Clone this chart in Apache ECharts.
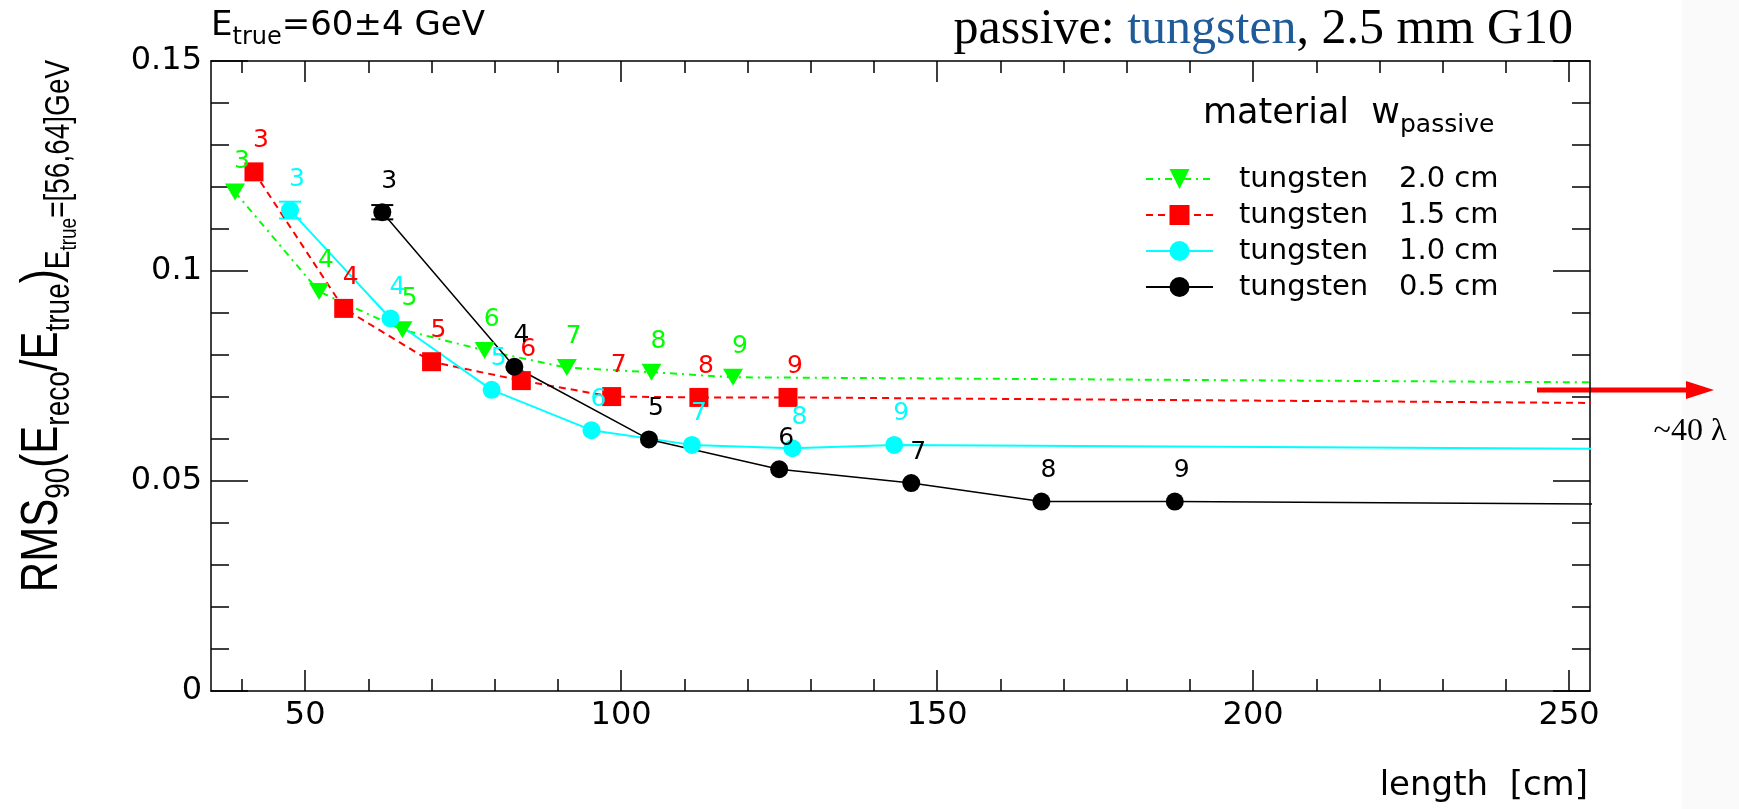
<!DOCTYPE html>
<html>
<head>
<meta charset="utf-8">
<title>RMS90 vs length, tungsten</title>
<script src="https://cdn.jsdelivr.net/npm/echarts@6/dist/echarts.min.js"></script>
<style>
  html, body { margin: 0; padding: 0; background: #fff; }
  #chart { width: 1739px; height: 809px; }
</style>
</head>
<body>
<div id="chart"></div>
<script>
// number of interaction lengths written next to each point
var depthLabels = [3, 4, 5, 6, 7, 8, 9];

// tungsten 2.0 cm
var lengthW20 = [38.9, 52.2, 65.4, 78.4, 91.4, 104.8, 117.7];
var rmsW20 = [0.1188, 0.0951, 0.0860, 0.0811, 0.0770, 0.0759, 0.0747];
// tungsten 1.5 cm
var lengthW15 = [41.9, 56.1, 70.0, 84.2, 98.5, 112.3, 126.4];
var rmsW15 = [0.1236, 0.0911, 0.0784, 0.0739, 0.0701, 0.0699, 0.0699];
// tungsten 1.0 cm
var lengthW10 = [47.6, 63.5, 79.5, 95.3, 111.2, 127.1, 143.2];
var rmsW10 = [0.1145, 0.0887, 0.0717, 0.0621, 0.0586, 0.0578, 0.0586];
var errW10 = [0.0020, 0, 0, 0, 0, 0, 0];
// tungsten 0.5 cm
var lengthW05 = [62.2, 83.1, 104.4, 125.0, 145.9, 166.5, 187.6];
var rmsW05 = [0.1140, 0.0772, 0.0599, 0.0528, 0.0495, 0.0451, 0.0451];
var errW05 = [0.0017, 0, 0, 0, 0, 0, 0];

// the ~40 lambda points are far past the right edge, only their lines show
var farLength = [523, 562, 636, 834];
var farRms = [0.0711, 0.0654, 0.0546, 0.0392];

var materials = ['tungsten', 'tungsten', 'tungsten', 'tungsten'];
var thickness = ['2.0 cm', '1.5 cm', '1.0 cm', '0.5 cm'];

var xMajorTicks = [50, 100, 150, 200, 250];
var xMinorTicks = [40, 60, 70, 80, 90, 110, 120, 130, 140, 160, 170, 180, 190, 210, 220, 230, 240];

var font = 'DejaVu Sans';
var narrow = 'Liberation Sans';
var serif = 'Liberation Serif';

function xAxisDef(pos, ticks, len, showLine, showLabel) {
    return {
        type: 'value', position: pos, min: 35.1, max: 253.3,
        axisLine: { show: showLine, onZero: false, lineStyle: { color: '#000', width: 1.5 } },
        axisTick: { show: true, inside: true, length: len, customValues: ticks,
            lineStyle: { color: '#000', width: 1.5 } },
        axisLabel: { show: showLabel, customValues: ticks, margin: 9, color: '#000',
            fontFamily: font, fontSize: 32 },
        splitLine: { show: false }
    };
}

function yAxisDef(pos, showLabel) {
    return {
        type: 'value', position: pos, min: 0, max: 0.15, interval: 0.05,
        axisLine: { show: true, onZero: false, lineStyle: { color: '#000', width: 1.5 } },
        axisTick: { show: true, inside: true, length: 37, lineStyle: { color: '#000', width: 1.5 } },
        minorTick: { show: true, splitNumber: 5, length: 18, lineStyle: { color: '#000', width: 1.5 } },
        axisLabel: { show: showLabel, margin: 9, color: '#000', fontFamily: font, fontSize: 32 },
        splitLine: { show: false }
    };
}

function pointSeries(i, xs, ys, color, symbol, size, rotate, lineType, lineWidth) {
    var data = xs.map(function (x, k) { return [x, ys[k]]; });
    data.push({ value: [farLength[i], farRms[i]], symbol: 'none', label: { show: false } });
    return {
        name: materials[i] + '  ' + thickness[i],
        type: 'line',
        data: data,
        symbol: symbol,
        symbolSize: size,
        symbolRotate: rotate,
        showAllSymbol: true,
        clip: true,
        itemStyle: { color: color },
        lineStyle: { color: color, width: lineWidth, type: lineType },
        label: {
            show: true, position: 'inside', offset: [7, -31],
            color: color, fontFamily: font, fontSize: 25,
            formatter: function (p) { return depthLabels[p.dataIndex]; }
        },
        emphasis: { disabled: true }
    };
}

function errorSeries(xs, ys, errs, color) {
    var data = [];
    xs.forEach(function (x, k) { if (errs[k] > 0) data.push([x, ys[k], errs[k]]); });
    return {
        type: 'custom',
        data: data,
        z: 3,
        renderItem: function (params, api) {
            var x = api.value(0), y = api.value(1), e = api.value(2);
            var hi = api.coord([x, y + e]);
            var lo = api.coord([x, y - e]);
            var st = { stroke: color, lineWidth: 2 };
            return {
                type: 'group',
                children: [
                    { type: 'line', shape: { x1: hi[0], y1: hi[1], x2: lo[0], y2: lo[1] }, style: st },
                    { type: 'line', shape: { x1: hi[0] - 11, y1: hi[1], x2: hi[0] + 11, y2: hi[1] }, style: st },
                    { type: 'line', shape: { x1: lo[0] - 11, y1: lo[1], x2: lo[0] + 11, y2: lo[1] }, style: st }
                ]
            };
        }
    };
}

var chart = echarts.init(document.getElementById('chart'));

var option = {
    animation: false,
    backgroundColor: '#fff',
    grid: { left: 211, right: 149, top: 61, bottom: 118, outerBoundsMode: 'none' },
    xAxis: [
        xAxisDef('bottom', xMajorTicks, 21, true, true),
        xAxisDef('bottom', xMinorTicks, 12, false, false),
        xAxisDef('top', xMajorTicks, 21, true, false),
        xAxisDef('top', xMinorTicks, 12, false, false)
    ],
    yAxis: [
        yAxisDef('left', true),
        yAxisDef('right', false)
    ],
    legend: {
        orient: 'vertical', left: 1140, top: 156,
        itemWidth: 67, itemHeight: 25, itemGap: 0,
        selectedMode: false,
        formatter: function (name) {
            var p = name.split('  ');
            return '{a|' + p[0] + '}{b|' + p[1] + '}';
        },
        textStyle: {
            color: '#000', fontFamily: font, fontSize: 29, lineHeight: 36,
            rich: {
                a: { fontFamily: font, fontSize: 29, width: 160, padding: [0, 0, 0, 21] },
                b: { fontFamily: font, fontSize: 29 }
            }
        }
    },
    series: [
        pointSeries(0, lengthW20, rmsW20, '#00ff00', 'triangle', [20, 17], 180, [7, 5, 2, 5], 2),
        pointSeries(1, lengthW15, rmsW15, '#ff0000', 'rect', 19, 0, [7, 5], 2),
        pointSeries(2, lengthW10, rmsW10, '#00ffff', 'circle', 18, 0, 'solid', 2),
        pointSeries(3, lengthW05, rmsW05, '#000000', 'circle', 18, 0, 'solid', 1.5),
        errorSeries(lengthW10, rmsW10, errW10, '#00ffff'),
        errorSeries(lengthW05, rmsW05, errW05, '#000000')
    ],
    graphic: [
        { type: 'rect', silent: true, z: -10, shape: { x: 1682, y: 0, width: 57, height: 809 },
          style: { fill: '#fafafa' } },
        { type: 'text', x: 211, y: 9,
          style: {
            text: '{m|E}{s|true}{m|=60\u00b14 GeV}',
            fill: '#000', align: 'left', verticalAlign: 'top',
            rich: {
                m: { fontFamily: font, fontSize: 34, lineHeight: 34, verticalAlign: 'top', fill: '#000' },
                s: { fontFamily: font, fontSize: 24, lineHeight: 24, verticalAlign: 'top', padding: [17, 0, 0, 0], fill: '#000' }
            }
          } },
        { type: 'text', x: 1573, y: 5,
          style: {
            text: 'passive: {b|tungsten}, 2.5 mm G10',
            fontFamily: serif, fontSize: 50, fill: '#000', align: 'right', verticalAlign: 'top',
            rich: { b: { fontFamily: serif, fontSize: 50, fill: '#1f5b99' } }
          } },
        { type: 'text', x: 43, y: 326, rotation: Math.PI / 2, scaleY: 1.25,
          style: {
            text: '{m|RMS}{s|90}{m|(E}{s|reco}{m|/E}{s|true}{m|)}{s|E}{ss|true}{s|=[56,64]GeV}',
            fill: '#000', align: 'center', verticalAlign: 'middle',
            rich: {
                m: { fontFamily: narrow, fontSize: 42, lineHeight: 42, verticalAlign: 'top', fill: '#000' },
                s: { fontFamily: narrow, fontSize: 28, lineHeight: 28, verticalAlign: 'top', padding: [20, 0, 0, 0], fill: '#000' },
                ss: { fontFamily: narrow, fontSize: 19, lineHeight: 19, verticalAlign: 'top', padding: [33, 0, 0, 0], fill: '#000' }
            }
          } },
        { type: 'text', x: 1588, y: 786,
          style: { text: 'length  [cm]', fontFamily: font, fontSize: 34, fill: '#000',
                   align: 'right', verticalAlign: 'middle' } },
        { type: 'text', x: 1203, y: 96,
          style: {
            text: '{m|material  w}{s|passive}',
            fill: '#000', align: 'left', verticalAlign: 'top',
            rich: {
                m: { fontFamily: font, fontSize: 35, lineHeight: 35, verticalAlign: 'top', fill: '#000' },
                s: { fontFamily: font, fontSize: 25, lineHeight: 25, verticalAlign: 'top', padding: [17, 0, 0, 0], fill: '#000' }
            }
          } },
        { type: 'line', silent: true, shape: { x1: 1537, y1: 390, x2: 1690, y2: 390 },
          style: { stroke: '#ff0000', lineWidth: 5 } },
        { type: 'polygon', silent: true, shape: { points: [[1686, 381], [1714, 390], [1686, 399]] },
          style: { fill: '#ff0000' } },
        { type: 'text', x: 1690, y: 432,
          style: { text: '~40 \u03bb', fontFamily: serif, fontSize: 32, fill: '#000',
                   align: 'center', verticalAlign: 'middle' } }
    ]
};

chart.setOption(option);
</script>
</body>
</html>
